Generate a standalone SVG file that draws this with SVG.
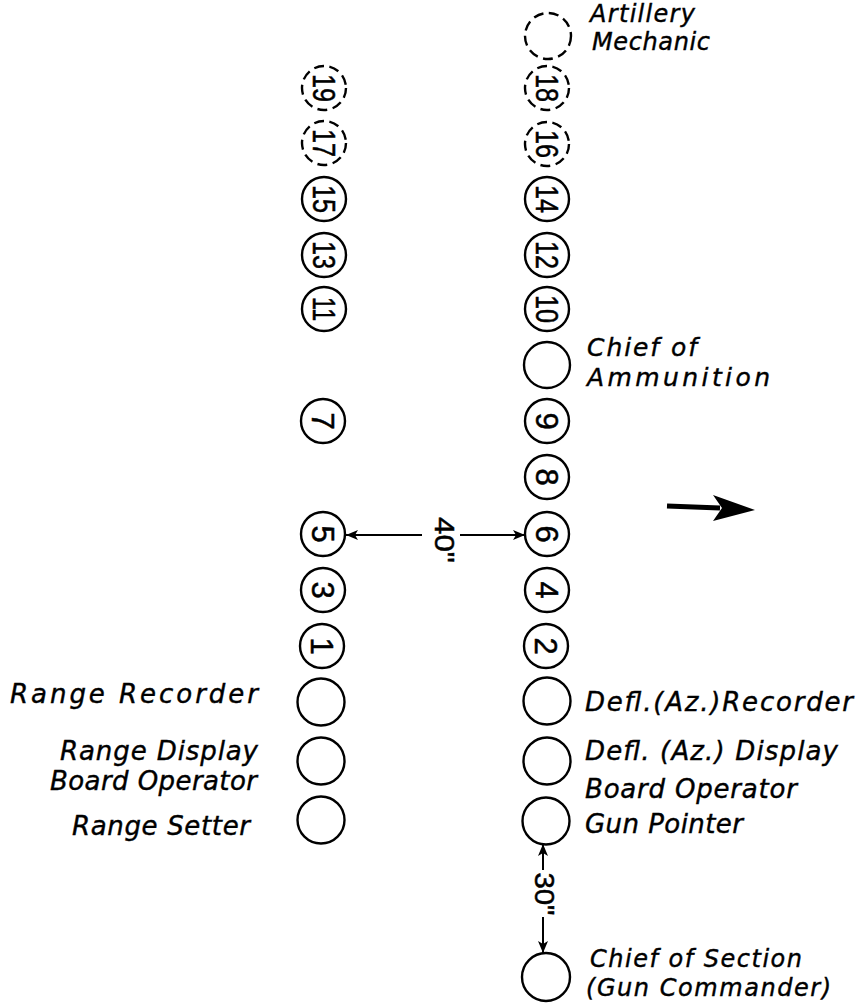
<svg xmlns="http://www.w3.org/2000/svg" width="857" height="1008" viewBox="0 0 857 1008">
<style>
.c{fill:none;stroke:#000;stroke-width:2.4}
.d{stroke-dasharray:10 5.5}
.n{font-family:"Liberation Sans",Arial,sans-serif;font-size:31px;text-anchor:middle;fill:#000;stroke:#000;stroke-width:0.5}
.lb{font-family:"DejaVu Sans","Liberation Sans",sans-serif;font-style:italic;font-size:26px;fill:#000;stroke:#000;stroke-width:0.4}
.e{text-anchor:end}
.ln{stroke:#000;stroke-width:2;fill:none}
</style>
<defs>
<marker id="ah" viewBox="0 0 12 10" refX="12" refY="5" markerWidth="12" markerHeight="10" markerUnits="userSpaceOnUse" orient="auto">
<path d="M0,0 L12,5 L0,10 L3,5 Z" fill="#000"/>
</marker>
</defs>
<rect width="857" height="1008" fill="#fff"/>

<!-- left column -->
<g id="n19"><circle class="c d" cx="324" cy="88" r="22"/><text class="n" transform="translate(324,88) rotate(90)" y="11" textLength="28" lengthAdjust="spacingAndGlyphs">19</text></g>
<g id="n17"><circle class="c d" cx="324" cy="143" r="22"/><text class="n" transform="translate(324,143) rotate(90)" y="11" textLength="28" lengthAdjust="spacingAndGlyphs">17</text></g>
<g id="n15"><circle class="c" cx="324" cy="199" r="22"/><text class="n" transform="translate(324,199) rotate(90)" y="11" textLength="28" lengthAdjust="spacingAndGlyphs">15</text></g>
<g id="n13"><circle class="c" cx="324" cy="255" r="22"/><text class="n" transform="translate(324,255) rotate(90)" y="11" textLength="28" lengthAdjust="spacingAndGlyphs">13</text></g>
<g id="n11"><circle class="c" cx="324" cy="309" r="22"/><text class="n" transform="translate(324,309) rotate(90)" y="11" textLength="24" lengthAdjust="spacingAndGlyphs">11</text></g>
<g id="n7"><circle class="c" cx="323" cy="421" r="22"/><text class="n" transform="translate(323,421) rotate(90)" y="11">7</text></g>
<g id="n5"><circle class="c" cx="323" cy="534" r="22"/><text class="n" transform="translate(323,534) rotate(90)" y="11">5</text></g>
<g id="n3"><circle class="c" cx="323" cy="590" r="22"/><text class="n" transform="translate(323,590) rotate(90)" y="11">3</text></g>
<g id="n1"><circle class="c" cx="322" cy="646" r="22"/><text class="n" transform="translate(322,646) rotate(90)" y="11">1</text></g>

<g id="range-recorder"><circle class="c" cx="321" cy="702" r="23.5"/><text class="lb e" x="258" y="703" textLength="248" lengthAdjust="spacing">Range Recorder</text></g>
<g id="range-display"><circle class="c" cx="321" cy="761" r="23.5"/><text class="lb e"><tspan x="258" y="760" textLength="198" lengthAdjust="spacing">Range Display</tspan><tspan x="257" y="790" textLength="207" lengthAdjust="spacing">Board Operator</tspan></text></g>
<g id="range-setter"><circle class="c" cx="321" cy="820" r="23.5"/><text class="lb e" x="250" y="835" textLength="178" lengthAdjust="spacing">Range Setter</text></g>

<!-- right column -->
<g id="artillery-mechanic"><circle class="c d" cx="548" cy="36" r="23"/><text class="lb" style="font-size:24px"><tspan x="590" y="22" textLength="105" lengthAdjust="spacing">Artillery</tspan><tspan x="592" y="50" textLength="118" lengthAdjust="spacing">Mechanic</tspan></text></g>
<g id="n18"><circle class="c d" cx="547" cy="88" r="22"/><text class="n" transform="translate(547,88) rotate(90)" y="11" textLength="28" lengthAdjust="spacingAndGlyphs">18</text></g>
<g id="n16"><circle class="c d" cx="547" cy="144" r="22"/><text class="n" transform="translate(547,144) rotate(90)" y="11" textLength="28" lengthAdjust="spacingAndGlyphs">16</text></g>
<g id="n14"><circle class="c" cx="547" cy="199" r="22"/><text class="n" transform="translate(547,199) rotate(90)" y="11" textLength="28" lengthAdjust="spacingAndGlyphs">14</text></g>
<g id="n12"><circle class="c" cx="547" cy="255" r="22"/><text class="n" transform="translate(547,255) rotate(90)" y="11" textLength="28" lengthAdjust="spacingAndGlyphs">12</text></g>
<g id="n10"><circle class="c" cx="547" cy="309" r="22"/><text class="n" transform="translate(547,309) rotate(90)" y="11" textLength="28" lengthAdjust="spacingAndGlyphs">10</text></g>
<g id="chief-ammunition"><circle class="c" cx="547" cy="365" r="23"/><text class="lb" style="font-size:25px"><tspan x="587" y="356" textLength="110" lengthAdjust="spacing">Chief of</tspan><tspan x="587" y="386" textLength="183" lengthAdjust="spacing">Ammunition</tspan></text></g>
<g id="n9"><circle class="c" cx="547" cy="421" r="22"/><text class="n" transform="translate(547,421) rotate(90)" y="11">9</text></g>
<g id="n8"><circle class="c" cx="547" cy="477" r="22"/><text class="n" transform="translate(547,477) rotate(90)" y="11">8</text></g>
<g id="n6"><circle class="c" cx="547" cy="534" r="22"/><text class="n" transform="translate(547,534) rotate(90)" y="11">6</text></g>
<g id="n4"><circle class="c" cx="547" cy="590" r="22"/><text class="n" transform="translate(547,590) rotate(90)" y="11">4</text></g>
<g id="n2"><circle class="c" cx="546" cy="646" r="22"/><text class="n" transform="translate(546,646) rotate(90)" y="11">2</text></g>

<g id="defl-recorder"><circle class="c" cx="547" cy="701" r="23.5"/><text class="lb" x="585" y="711" textLength="268" lengthAdjust="spacing">Defl.(Az.)Recorder</text></g>
<g id="defl-display"><circle class="c" cx="547" cy="761" r="23.5"/><text class="lb"><tspan x="585" y="760" textLength="253" lengthAdjust="spacing">Defl. (Az.) Display</tspan><tspan x="585" y="798" textLength="212" lengthAdjust="spacing">Board Operator</tspan></text></g>
<g id="gun-pointer"><circle class="c" cx="546" cy="821" r="23.5"/><text class="lb" x="585" y="833" textLength="158" lengthAdjust="spacing">Gun Pointer</text></g>
<g id="chief-section"><circle class="c" cx="546" cy="977" r="24"/><text class="lb" style="font-size:24px"><tspan x="590" y="967" textLength="212" lengthAdjust="spacing">Chief of Section</tspan><tspan x="586" y="996" textLength="245" lengthAdjust="spacing">(Gun Commander)</tspan></text></g>

<!-- connectors -->
<g id="connectors">
<line class="ln" x1="422" y1="535" x2="346" y2="535" marker-end="url(#ah)"/>
<line class="ln" x1="460" y1="535" x2="525" y2="535" marker-end="url(#ah)"/>
<text class="n" transform="translate(445,540) rotate(90)" y="10" style="font-size:28px" textLength="46" lengthAdjust="spacingAndGlyphs">40"</text>
<line class="ln" x1="543" y1="870" x2="543" y2="844" marker-end="url(#ah)"/>
<line class="ln" x1="543" y1="917" x2="543" y2="953" marker-end="url(#ah)"/>
<text class="n" transform="translate(545,894) rotate(90)" y="10" style="font-size:28px" textLength="43" lengthAdjust="spacingAndGlyphs">30"</text>
<line x1="667" y1="506" x2="720" y2="508" stroke="#000" stroke-width="5"/>
<path d="M755,510 L713,495 L722,508 L713,521 Z" fill="#000"/>
</g>
</svg>
